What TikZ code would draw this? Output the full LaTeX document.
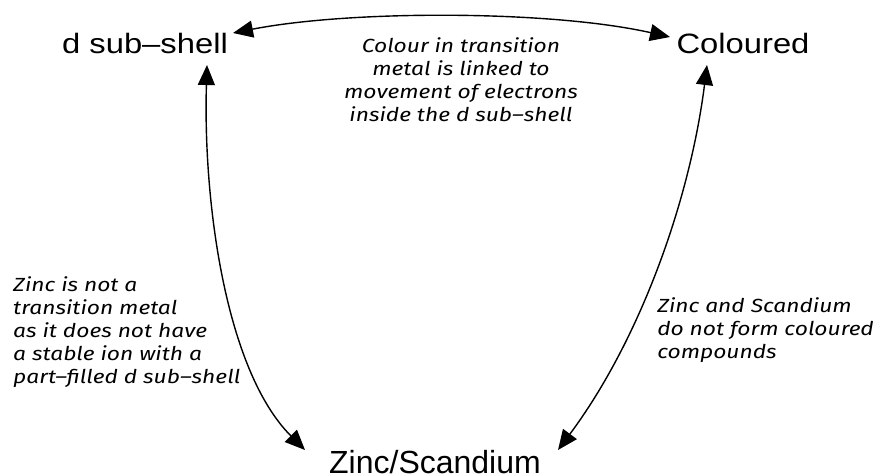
\documentclass[tikz,border=0pt]{standalone}
\usepackage{fontspec}
\setmainfont{Liberation Sans}
\newfontfamily\handfont{Fira Sans}
\usetikzlibrary{arrows.meta}
\begin{document}
\begin{tikzpicture}[x=1pt,y=-1pt,
  lab/.style={font=\fontsize{28}{32}\selectfont, inner sep=0pt, xscale=1.17},
  biglab/.style={font=\fontsize{32}{36}\selectfont, inner sep=0pt},
  note/.style={font=\handfont\itshape\fontsize{19}{23}\selectfont, inner sep=0pt, xscale=1.2},
  link/.style={line width=1.4pt, {Triangle[length=20pt,width=17pt]}-{Triangle[length=20pt,width=17pt]}}]
\useasboundingbox (0,0) rectangle (888,475);
\fill[white] (0,0) rectangle (888,475);
\node[lab, anchor=base] (ds) at (145,53) {d sub–shell};
\node[lab, anchor=base] (col) at (743,53) {Coloured};
\node[biglab, anchor=base] (zs) at (435,473) {Zinc/Scandium};
\coordinate (dsE) at (233,33);
\coordinate (dsS) at (207,65);
\coordinate (colW) at (670,37);
\coordinate (colS) at (707,65);
\coordinate (zsW) at (305,450);
\coordinate (zsE) at (558,450);
\draw[link] (dsE) .. controls (350,10) and (550,10) .. (colW);
\draw[link] (dsS) .. controls (203,200) and (225,370) .. (zsW);
\draw[link] (colS) .. controls (690,200) and (640,340) .. (zsE);
\node[note, align=center, anchor=north] (t1) at (461,37) {Colour in transition\\metal is linked to\\movement of electrons\\inside the d sub–shell};
\node[note, align=left, anchor=north west] (t2) at (13,276) {Zinc is not a\\transition metal\\as it does not have\\a stable ion with a\\part–filled d sub–shell};
\node[note, align=left, anchor=north west] (t3) at (657,297) {Zinc and Scandium\\do not form coloured\\compounds};
\end{tikzpicture}
\end{document}
